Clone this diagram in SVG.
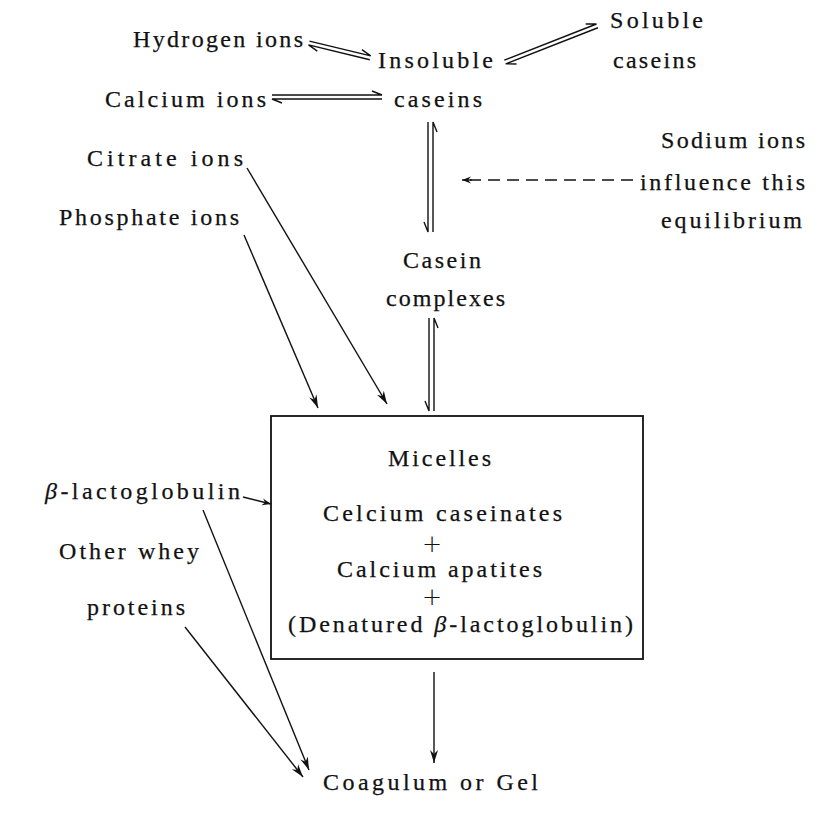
<svg xmlns="http://www.w3.org/2000/svg" width="827" height="820" viewBox="0 0 827 820">
<defs>
<style>
text{font-family:"Liberation Serif","Times New Roman",serif;font-size:24px;fill:#111;stroke:#111;stroke-width:0.25;}
.plus{font-family:"DejaVu Sans",sans-serif;font-size:24px;font-weight:300;stroke-width:0;}
.ln{stroke:#111;stroke-width:1.4;fill:none;}
.dash{stroke:#111;stroke-width:1.4;fill:none;stroke-dasharray:12 7;}
.box{stroke:#111;stroke-width:1.8;fill:none;}
</style>
<marker id="ah" markerUnits="userSpaceOnUse" markerWidth="16" markerHeight="12" refX="13" refY="5" orient="auto">
<path d="M0,1 L13,5 L0,9 L4,5 Z" fill="#111"/>
</marker>
<marker id="ahs" markerUnits="userSpaceOnUse" markerWidth="12" markerHeight="10" refX="9" refY="4" orient="auto">
<path d="M0,0.5 L9,4 L0,7.5 L3,4 Z" fill="#111"/>
</marker>
</defs>
<rect width="827" height="820" fill="#fff"/>

<g id="n-hydrogen"><text x="133" y="47" textLength="170" lengthAdjust="spacing">Hydrogen ions</text></g>
<g id="n-insoluble"><text x="378" y="68" textLength="115" lengthAdjust="spacing">Insoluble</text><text x="394" y="107" textLength="88" lengthAdjust="spacing">caseins</text></g>
<g id="n-soluble"><text x="610" y="28" textLength="93" lengthAdjust="spacing">Soluble</text><text x="613" y="68" textLength="83" lengthAdjust="spacing">caseins</text></g>
<g id="n-calcium"><text x="105" y="107" textLength="161" lengthAdjust="spacing">Calcium ions</text></g>
<g id="n-citrate"><text x="87" y="166" textLength="156" lengthAdjust="spacing">Citrate ions</text></g>
<g id="n-phosphate"><text x="59" y="225" textLength="180" lengthAdjust="spacing">Phosphate ions</text></g>
<g id="n-sodium"><text x="661" y="148" textLength="144" lengthAdjust="spacing">Sodium ions</text><text x="640" y="190" textLength="165" lengthAdjust="spacing">influence this</text><text x="661" y="228" textLength="141" lengthAdjust="spacing">equilibrium</text></g>
<g id="n-complexes"><text x="403" y="268" textLength="78" lengthAdjust="spacing">Casein</text><text x="386" y="306" textLength="119" lengthAdjust="spacing">complexes</text></g>
<g id="n-micelles">
<rect class="box" x="271" y="416" width="372" height="243"/>
<text x="388" y="466" textLength="103" lengthAdjust="spacing">Micelles</text>
<text x="323" y="521" textLength="239" lengthAdjust="spacing">Celcium caseinates</text>
<text class="plus" x="432" y="552" text-anchor="middle">+</text>
<text x="337" y="577" textLength="205" lengthAdjust="spacing">Calcium apatites</text>
<text class="plus" x="432" y="605" text-anchor="middle">+</text>
<text x="288" y="632" textLength="345" lengthAdjust="spacing">(Denatured <tspan font-style="italic">β</tspan>-lactoglobulin)</text>
</g>
<g id="n-blg"><text x="45" y="499" textLength="195" lengthAdjust="spacing"><tspan font-style="italic">β</tspan>-lactoglobulin</text></g>
<g id="n-whey"><text x="59" y="559" textLength="140" lengthAdjust="spacing">Other whey</text><text x="87" y="615" textLength="98" lengthAdjust="spacing">proteins</text></g>
<g id="n-coagulum"><text x="323" y="790" textLength="215" lengthAdjust="spacing">Coagulum or Gel</text></g>

<g id="connectors">
<g transform="translate(309,43) rotate(13.6)">
<path class="ln" d="M0,-2 H63 L53,-6"/>
<path class="ln" d="M63,2 H0 L10,6"/>
</g>
<g transform="translate(505,62) rotate(-21.4)">
<path class="ln" d="M0,-2 H99 L89,-6"/>
<path class="ln" d="M99,2 H0 L10,6"/>
</g>
<path class="ln" d="M272,95 H382 L372,91"/>
<path class="ln" d="M382,99 H272 L282,103"/>
<path class="ln" d="M428,122 V232 L424,222"/>
<path class="ln" d="M433,232 V122 L437,132"/>
<path class="ln" d="M429,318 V411 L425,401"/>
<path class="ln" d="M434,411 V318 L438,328"/>
<path class="dash" d="M633,180 H470"/>
<path class="ln" d="M472,180 H462" marker-end="url(#ahs)"/>
<path class="ln" d="M247,168 L387,404" marker-end="url(#ah)"/>
<path class="ln" d="M244,235 L318,408" marker-end="url(#ah)"/>
<path class="ln" d="M243,497 L271,504" marker-end="url(#ahs)"/>
<path class="ln" d="M203,510 L309,770" marker-end="url(#ah)"/>
<path class="ln" d="M185,627 L303,777" marker-end="url(#ah)"/>
<path class="ln" d="M434,672 V763" marker-end="url(#ah)"/>
</g>
</svg>
